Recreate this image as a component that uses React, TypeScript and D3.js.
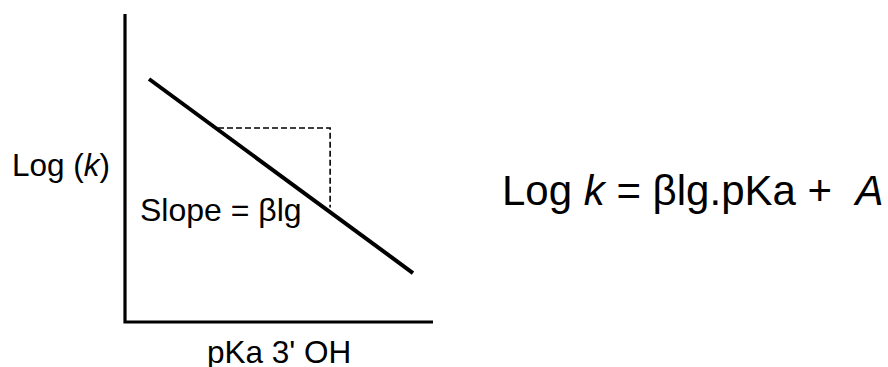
import React from "react";
import * as d3 from "d3";

const axisDomainX: [number, number] = [0, 10];
const axisDomainY: [number, number] = [0, 10];
const fitLine: [number, number][] = [
  [0.78, 7.89],
  [9.35, 1.59],
];
const slopeGuide: [number, number][] = [
  [3.02, 6.3],
  [6.66, 6.3],
  [6.66, 3.72],
];
const yLabel = ["Log (", "k", ")"];
const xLabel = "pKa 3' OH";
const slopeLabel = "Slope = βlg";
const equation = ["Log ", "k", " = βlg.pKa +\u00A0\u00A0", "A"];

export default function App() {
  const W = 888;
  const H = 367;
  const x = d3.scaleLinear().domain(axisDomainX).range([125, 433]);
  const y = d3.scaleLinear().domain(axisDomainY).range([322, 14]);
  const line = d3
    .line<[number, number]>()
    .x((d) => x(d[0]))
    .y((d) => y(d[1]));
  const font = "'Liberation Sans', Arial, sans-serif";
  return (
    <svg
      width={W}
      height={H}
      style={{ position: "absolute", left: 0, top: 0, background: "#fff" }}
    >
      <rect width={W} height={H} fill="#fff" />
      <path
        d={`M${x(0)},${y(axisDomainY[1])}V${y(0)}H${x(axisDomainX[1])}`}
        fill="none"
        stroke="#000"
        strokeWidth={3.2}
      />
      <path
        d={line(slopeGuide) || ""}
        fill="none"
        stroke="#000"
        strokeWidth={1.6}
        strokeDasharray="6,3"
      />
      <path
        d={line(fitLine) || ""}
        fill="none"
        stroke="#000"
        strokeWidth={4}
      />
      <g fontFamily={font} fill="#000">
        <text x={12} y={176} fontSize={31.5}>
          {yLabel[0]}
          <tspan fontStyle="italic">{yLabel[1]}</tspan>
          {yLabel[2]}
        </text>
        <text x={140} y={221} fontSize={32}>
          {slopeLabel}
        </text>
        <text x={207} y={363} fontSize={31.5}>
          {xLabel}
        </text>
        <text x={502} y={205} fontSize={42}>
          {equation[0]}
          <tspan fontStyle="italic">{equation[1]}</tspan>
          {equation[2]}
          <tspan fontStyle="italic">{equation[3]}</tspan>
        </text>
      </g>
    </svg>
  );
}
